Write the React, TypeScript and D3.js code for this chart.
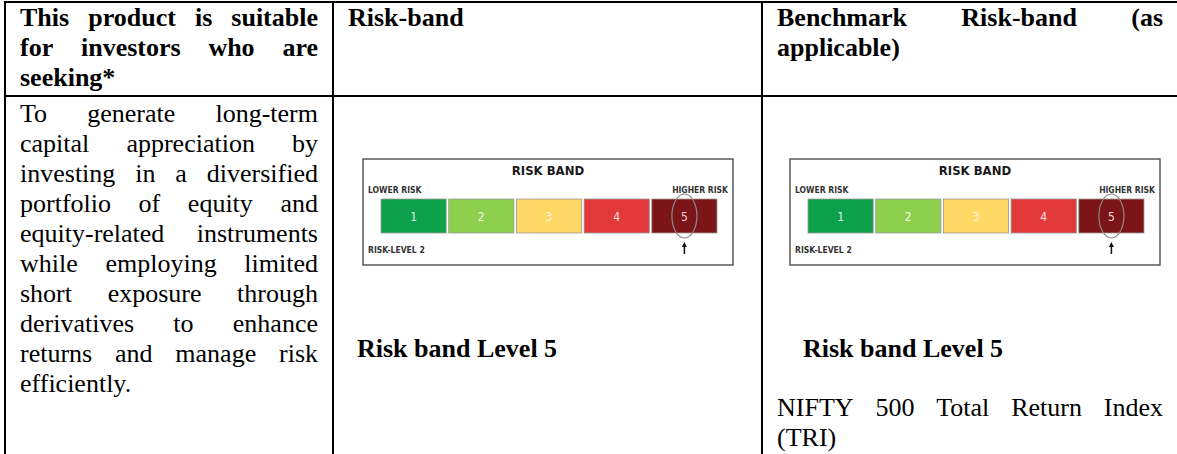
import React, { useEffect, useRef } from 'react';
import * as d3 from 'd3';

// table text
const headerSuitable = ['This product is suitable', 'for investors who are', 'seeking*'];
const headerRiskBand = ['Risk-band'];
const headerBenchmark = ['Benchmark Risk-band (as', 'applicable)'];
const suitabilityLines = [
  'To generate long-term',
  'capital appreciation by',
  'investing in a diversified',
  'portfolio of equity and',
  'equity-related instruments',
  'while employing limited',
  'short exposure through',
  'derivatives to enhance',
  'returns and manage risk',
  'efficiently.'
];
const benchmarkLines = ['NIFTY 500 Total Return Index', '(TRI)'];
const riskLevelLabel = 'Risk band Level 5';

// risk band graphic
const riskLevels = [1, 2, 3, 4, 5];
const riskColors = ['#0ea14c', '#8fcf4e', '#ffd865', '#e2393a', '#7c1517'];
const riskTextColors = ['#dff5e6', '#eef8e2', '#fff6d8', '#fde3e3', '#f3d6d6'];
const selectedLevel = 5;

const W = 1177;
const H = 454;
const SERIF = '"Liberation Serif", "Times New Roman", serif';
const NARROW = '"Liberation Sans Narrow", "DejaVu Sans Condensed", "Arial Narrow", sans-serif';

const App: React.FC = () => {
  const svgRef = useRef<SVGSVGElement>(null);

  useEffect(() => {
    document.body.style.margin = '0';
    if (!svgRef.current) return;
    const svg = d3.select(svgRef.current);
    svg.selectAll('*').remove();

    const fontSize = 26;
    const lineH = 30;

    // draws one line, justified between x0 and x1 unless last line
    const drawLine = (g: any, text: string, x0: number, x1: number, y: number, bold: boolean, justify: boolean) => {
      const words = text.split(' ');
      const nodes = words.map(w =>
        g.append('text')
          .attr('y', y)
          .attr('font-family', SERIF)
          .attr('font-size', fontSize)
          .attr('font-weight', bold ? 'bold' : 'normal')
          .attr('fill', '#000')
          .text(w)
      );
      const widths = nodes.map((n: any) => (n.node() as SVGTextElement).getComputedTextLength());
      const total = d3.sum(widths);
      const space = fontSize * 0.25;
      const gap = justify && words.length > 1 ? (x1 - x0 - total) / (words.length - 1) : space;
      let x = x0;
      nodes.forEach((n: any, i: number) => {
        n.attr('x', x);
        x += widths[i] + gap;
      });
    };

    const drawBlock = (lines: string[], x0: number, x1: number, firstBaseline: number, bold: boolean) => {
      const g = svg.append('g');
      lines.forEach((l, i) => {
        const last = i === lines.length - 1;
        drawLine(g, l, x0, x1, firstBaseline + i * lineH, bold, !last);
      });
    };

    const colX = [5, 333, 762];
    const headerBottom = 96;

    drawBlock(headerSuitable, 20, 318, 26, true);
    drawBlock(headerRiskBand, 348, 747, 26, true);
    drawBlock(headerBenchmark, 777, 1163, 26, true);

    drawBlock(suitabilityLines, 20, 318, 122, false);
    drawBlock(benchmarkLines, 777, 1163, 416, false);

    [357, 803].forEach(x => {
      svg.append('text')
        .attr('x', x)
        .attr('y', 357)
        .attr('font-family', SERIF)
        .attr('font-size', fontSize)
        .attr('font-weight', 'bold')
        .text(riskLevelLabel);
    });

    // risk band pictures
    const drawRiskBand = (bx: number, by: number) => {
      const bw = 370;
      const bh = 106;
      const g = svg.append('g');
      g.append('rect')
        .attr('x', bx).attr('y', by).attr('width', bw).attr('height', bh)
        .attr('fill', '#fff').attr('stroke', '#5a5a5a').attr('stroke-width', 1.5);

      g.append('text')
        .attr('x', bx + bw / 2).attr('y', by + 16)
        .attr('text-anchor', 'middle')
        .attr('font-family', NARROW).attr('font-size', 13).attr('font-weight', 'bold')
        .attr('fill', '#1a1a1a')
        .text('RISK BAND');
      g.append('text')
        .attr('x', bx + 5).attr('y', by + 34)
        .attr('font-family', NARROW).attr('font-size', 8.5).attr('font-weight', 'bold')
        .attr('fill', '#333')
        .text('LOWER RISK');
      g.append('text')
        .attr('x', bx + bw - 5).attr('y', by + 34)
        .attr('text-anchor', 'end')
        .attr('font-family', NARROW).attr('font-size', 8.5).attr('font-weight', 'bold')
        .attr('fill', '#333')
        .text('HIGHER RISK');
      g.append('text')
        .attr('x', bx + 5).attr('y', by + 94)
        .attr('font-family', NARROW).attr('font-size', 8.5).attr('font-weight', 'bold')
        .attr('fill', '#333')
        .text('RISK-LEVEL 2');

      const x = d3.scaleBand<number>()
        .domain(riskLevels)
        .range([bx + 18, bx + 354])
        .paddingInner(0.037);
      const top = by + 40;
      const blockH = 34;

      g.selectAll('rect.level')
        .data(riskLevels)
        .enter().append('rect')
        .attr('class', 'level')
        .attr('x', d => x(d)!)
        .attr('y', top)
        .attr('width', x.bandwidth())
        .attr('height', blockH)
        .attr('fill', (_d, i) => riskColors[i])
        .attr('stroke', '#9a9a9a')
        .attr('stroke-width', 0.8);

      g.selectAll('text.level')
        .data(riskLevels)
        .enter().append('text')
        .attr('class', 'level')
        .attr('x', d => x(d)! + x.bandwidth() / 2)
        .attr('y', top + blockH / 2 + 4.5)
        .attr('text-anchor', 'middle')
        .attr('font-family', NARROW).attr('font-size', 12)
        .attr('fill', (_d, i) => riskTextColors[i])
        .text(d => String(d));

      const cx = x(selectedLevel)! + x.bandwidth() / 2;
      g.append('ellipse')
        .attr('cx', cx).attr('cy', top + blockH / 2)
        .attr('rx', 12.5).attr('ry', 22)
        .attr('fill', 'none').attr('stroke', '#8a8a8a').attr('stroke-width', 1.2);

      // arrow
      g.append('line')
        .attr('x1', cx).attr('x2', cx)
        .attr('y1', by + 95).attr('y2', by + 86)
        .attr('stroke', '#111').attr('stroke-width', 1.5);
      g.append('path')
        .attr('d', `M${cx - 2.5},${by + 88} L${cx},${by + 83} L${cx + 2.5},${by + 88} Z`)
        .attr('fill', '#111');
    };

    drawRiskBand(363, 159);
    drawRiskBand(790, 159);

    // table rules
    const rules = svg.append('g').attr('stroke', '#000').attr('stroke-width', 2);
    rules.selectAll('line.v')
      .data(colX)
      .enter().append('line')
      .attr('x1', d => d).attr('x2', d => d)
      .attr('y1', 1).attr('y2', H);
    [2, headerBottom].forEach(y => {
      rules.append('line')
        .attr('x1', colX[0] - 1).attr('x2', W)
        .attr('y1', y).attr('y2', y);
    });
  }, []);

  return <svg ref={svgRef} width={W} height={H} style={{ display: 'block', background: '#fff' }} />;
};

export default App;
